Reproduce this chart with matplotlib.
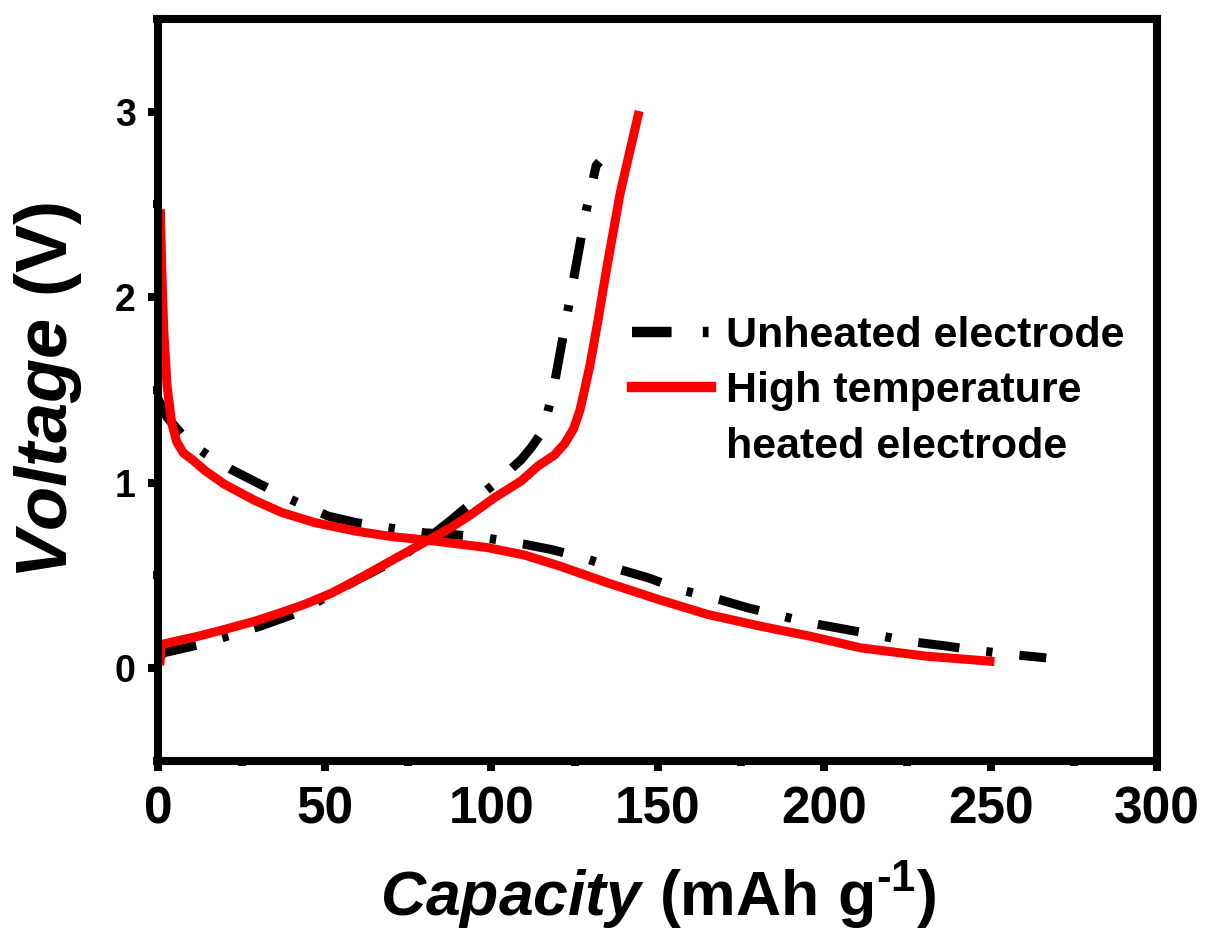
import matplotlib
matplotlib.use("Agg")
import matplotlib.pyplot as plt
from matplotlib.ticker import MultipleLocator
from matplotlib.lines import Line2D

plt.rcParams['font.family'] = ['Liberation Sans', 'DejaVu Sans']
plt.rcParams['font.weight'] = 'bold'
plt.rcParams['mathtext.fontset'] = 'custom'
plt.rcParams['mathtext.rm'] = 'Liberation Sans:bold'
plt.rcParams['mathtext.it'] = 'Liberation Sans:bold:italic'
plt.rcParams['mathtext.bf'] = 'Liberation Sans:bold'

# unheated electrode, discharge
unheated_dis_x = [0, 2.5, 9, 15, 21.5, 30, 38.5, 51, 59.4, 68, 80, 89, 97.5, 109.5, 118,
                  126.8, 139, 147.6, 156.4, 168.6, 177, 195.6, 207.8, 216.4, 225, 237,
                  245.5, 254.7, 266.7]
unheated_dis_v = [1.45, 1.355, 1.22, 1.146, 1.075, 0.997, 0.92, 0.82, 0.785, 0.76, 0.73,
                  0.72, 0.705, 0.67, 0.64, 0.60, 0.53, 0.485, 0.425, 0.37, 0.326, 0.245,
                  0.205, 0.177, 0.146, 0.119, 0.097, 0.077, 0.056]
# unheated electrode, charge
unheated_chg_x = [0, 1.5, 12.5, 30.6, 42, 59, 72, 81, 88, 101, 109, 112, 115.5, 118.5,
                  122.8, 128.3, 131.5, 132.5]
unheated_chg_v = [0.05, 0.083, 0.128, 0.227, 0.30, 0.47, 0.59, 0.70, 0.80, 0.995, 1.125,
                  1.19, 1.28, 1.49, 1.91, 2.45, 2.71, 2.73]

# high temperature heated electrode, discharge
heated_dis_x = [0.6, 1.0, 1.6, 2.6, 4.0, 5.5, 7.5, 10.5, 14, 20, 29, 37, 47, 59, 70, 81,
                90, 99, 110, 120.7, 135, 150.7, 165, 180.8, 195.7, 210.9, 230.8, 249.8]
heated_dis_v = [2.45, 2.15, 1.82, 1.52, 1.32, 1.22, 1.16, 1.12, 1.065, 0.99, 0.904, 0.84,
                0.785, 0.74, 0.71, 0.69, 0.67, 0.65, 0.61, 0.55, 0.46, 0.368, 0.29, 0.227,
                0.173, 0.11, 0.065, 0.038]
# high temperature heated electrode, charge
heated_chg_x = [0.5, 0.8, 5, 12, 20, 29, 36, 44, 52, 59, 65, 71, 81, 88, 94, 101, 109,
                114, 119, 122, 124.7, 126.6, 128, 129.6, 132, 134.7, 138.7, 144.1]
heated_chg_v = [0.04, 0.128, 0.145, 0.173, 0.21, 0.254, 0.295, 0.345, 0.405, 0.47, 0.53,
                0.59, 0.69, 0.76, 0.83, 0.92, 1.01, 1.09, 1.15, 1.21, 1.29, 1.39, 1.50,
                1.63, 1.87, 2.16, 2.56, 2.98]

labels = ['Unheated electrode', 'High temperature', 'heated electrode']

fig = plt.figure(figsize=(12.05, 9.31), dpi=100)
ax = fig.add_axes([0.1315, 0.1826, 0.8287, 0.797])

lw = 6.5
dashes = (4.6, 3.0, 0.7, 3.0)
ax.plot(unheated_dis_x, unheated_dis_v, color='black', lw=lw, dashes=dashes)
ax.plot(unheated_chg_x, unheated_chg_v, color='black', lw=lw, dashes=dashes)
ax.plot(heated_dis_x, heated_dis_v, color='#ff0000', lw=lw, solid_joinstyle='round')
ax.plot(heated_chg_x, heated_chg_v, color='#ff0000', lw=lw, solid_joinstyle='round')

ax.set_xlim(0, 300)
ax.set_ylim(-0.5, 3.5)
ax.xaxis.set_major_locator(MultipleLocator(50))
ax.xaxis.set_minor_locator(MultipleLocator(25))
ax.yaxis.set_major_locator(MultipleLocator(1))
ax.yaxis.set_minor_locator(MultipleLocator(0.5))

for s in ax.spines.values():
    s.set_linewidth(5.8)

ax.tick_params(which='major', direction='out', length=7.5, width=5.8)
ax.tick_params(which='minor', direction='out', length=3.5, width=5.8)
ax.tick_params(axis='x', which='major', labelsize=37, pad=10)
ax.tick_params(axis='y', which='major', labelsize=27, pad=9)
for t in ax.get_xticklabels() + ax.get_yticklabels():
    t.set_fontweight('bold')

ax.set_xlabel(r'$\mathit{Capacity}\ \mathrm{(mAh\ g^{\text{-}1})}$', fontsize=45, labelpad=18)
ax.set_ylabel(r'$\mathit{Voltage}\ \mathrm{(V)}$', fontsize=52, labelpad=22)

handles = [Line2D([], [], color='black', lw=7.5, dashes=(3.8, 3.0, 0.55, 3.4)),
           Line2D([], [], color='#ff0000', lw=7.5),
           Line2D([], [], color='none', lw=0)]
leg = ax.legend(handles, labels, loc='upper left', bbox_to_anchor=(0.474, 0.60),
                frameon=False, fontsize=31, handlelength=1.85, handletextpad=0.33,
                labelspacing=0.36, borderpad=0, borderaxespad=0)
for t in leg.get_texts():
    t.set_fontweight('bold')

fig.savefig('out.png', dpi=100)
